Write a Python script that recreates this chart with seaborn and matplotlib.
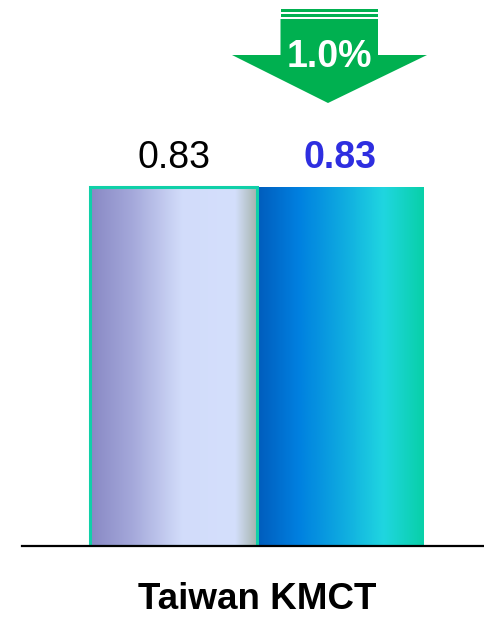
import numpy as np
import pandas as pd
import matplotlib
matplotlib.use("Agg")
import matplotlib.pyplot as plt
from matplotlib.colors import LinearSegmentedColormap
from matplotlib.patches import Polygon, Rectangle
import seaborn as sns

categories = ["Taiwan KMCT"]
series = ["Previous", "Current"]
values = [0.83, 0.83]
value_labels = ["0.83", "0.83"]
change_label = "1.0%"

sns.set_theme(style="white")
plt.rcParams["font.family"] = ["Liberation Sans", "DejaVu Sans"]

df = pd.DataFrame({"category": categories * 2, "series": series, "value": values})

W, H = 485, 617
fig = plt.figure(figsize=(W / 100, H / 100), dpi=100)
ax = fig.add_axes([22 / W, (H - 546) / H, (W - 22) / W, 546 / H])

sns.barplot(data=df, x="category", y="value", hue="series", ax=ax,
            width=0.72, dodge=True, legend=False, palette=["#d4dffc", "#0080e0"])

ax.set_ylim(0, 546 * 0.83 / 359)

grad1 = LinearSegmentedColormap.from_list("g1", [
    (0.0, "#8888c4"), (0.25, "#a4a8da"), (0.55, "#d2dcfa"),
    (0.87, "#d4dffc"), (1.0, "#a6b4ae")])
grad2 = LinearSegmentedColormap.from_list("g2", [
    (0.0, "#005cbc"), (0.25, "#0080e0"), (0.5, "#0ea8e0"),
    (0.76, "#20d6e0"), (1.0, "#08d0a8")])

patches = sorted(ax.patches, key=lambda p: p.get_x())
for p, cmap, lab, i in zip(patches, [grad1, grad2], value_labels, range(2)):
    x0, w, h = p.get_x(), p.get_width(), p.get_height()
    g = np.linspace(0, 1, 256).reshape(1, -1)
    im = ax.imshow(g, cmap=cmap, aspect="auto", extent=[x0, x0 + w, 0, h],
                   zorder=2, interpolation="bicubic")
    im.set_clip_path(p)
    p.set_facecolor("none")
    p.set_zorder(3)
    if i == 0:
        p.set_edgecolor("#10d0a8")
        p.set_linewidth(2.2)
    else:
        p.set_edgecolor("none")
    ax.annotate(lab, (x0 + w / 2, h), xytext=(0, 8), textcoords="offset points",
                ha="center", va="bottom", fontsize=27,
                fontweight="bold" if i == 1 else "normal",
                color="#2e2ee0" if i == 1 else "black")

ax.set_xlim(-(257 - 22) / 463, (485 - 257) / 463)

# down arrow decoration (figure pixel coords from top)
green = "#00b050"
def fy(y):
    return (H - y) / H
def fx(x):
    return x / W
for (ya, yb) in [(9, 11.5), (14, 16.7)]:
    fig.patches.append(Rectangle((fx(280.5), fy(yb)), fx(378) - fx(280.5), fy(ya) - fy(yb),
                                 transform=fig.transFigure, color=green, lw=0))
shape = [(280.5, 19), (378, 19), (378, 55), (427, 55), (328, 103), (232, 55), (280.5, 55)]
fig.patches.append(Polygon([(fx(a), fy(b)) for a, b in shape], closed=True,
                           transform=fig.transFigure, color=green, lw=0))
fig.text(fx(329), fy(67), change_label, ha="center", va="baseline", fontsize=27,
         fontweight="bold", color="white")

for s in ["top", "right", "left"]:
    ax.spines[s].set_visible(False)
ax.spines["bottom"].set_color("black")
ax.spines["bottom"].set_linewidth(1.6)
ax.spines["bottom"].set_zorder(5)
ax.set_yticks([])
ax.set_xlabel("")
ax.set_ylabel("")
ax.tick_params(axis="x", length=0, pad=26, labelsize=26.5)
for t in ax.get_xticklabels():
    t.set_fontweight("bold")
    t.set_color("black")

fig.savefig("out.png", dpi=100, facecolor="white")
